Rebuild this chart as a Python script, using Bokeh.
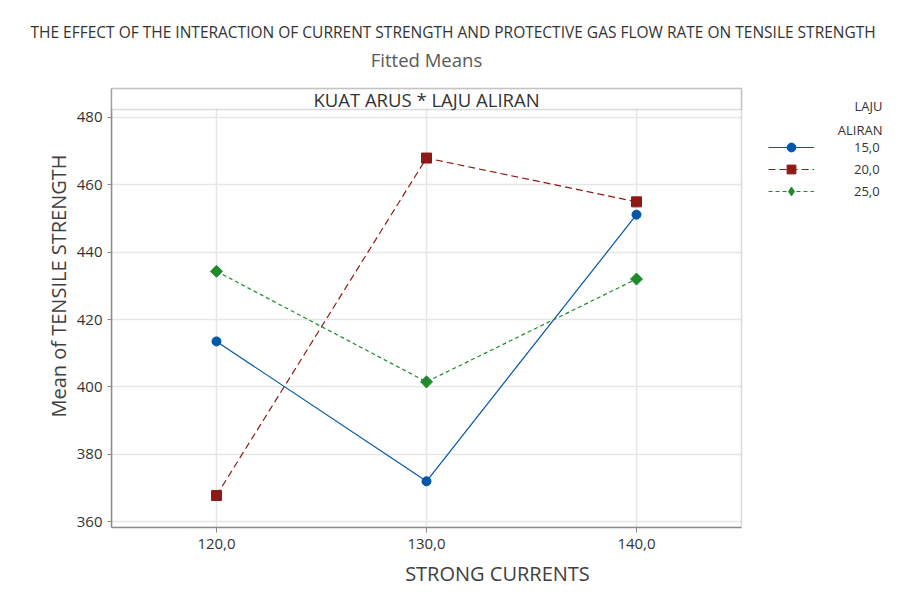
from bokeh.plotting import figure
from bokeh.models import Range1d, Legend, LegendItem, Label, BoxAnnotation, FixedTicker, Title
from bokeh.embed import file_html
from bokeh.resources import INLINE
import numpy as np

# ---- data ----
currents = [120, 130, 140]
flow_labels = ["15,0", "20,0", "25,0"]
mean_15 = [413.5, 372.0, 451.1]
mean_20 = [367.8, 467.9, 454.9]
mean_25 = [434.3, 401.5, 432.0]
y_ticks = [360, 380, 400, 420, 440, 460, 480]
x_ticks = [120, 130, 140]
x_tick_labels = {120: "120,0", 130: "130,0", 140: "140,0"}

# ---- layout constants (pixels -> data) ----
FONT = "Open Sans"
X0, X1 = 115, 145            # plotted x span (boxed area)
Y0, YTOP = 358.3, 488.55     # plotted y span (boxed area incl. header strip)
YHEAD = 482.33               # bottom of header strip
PX_X = 21.0                  # px per x unit
PX_Y = 3.378                 # px per y unit
LEFT, TOP, W, H = 111, 44, 883, 589
FRAME_W = W - LEFT
FRAME_H = 528 - TOP
x_end = X0 + FRAME_W / PX_X
y_end = Y0 + FRAME_H / PX_Y

def yd(py):  # picture y -> data y
    return YTOP - (py - 88) / PX_Y

p = figure(width=W, height=H, output_backend="svg", toolbar_location=None,
           x_range=Range1d(X0, x_end), y_range=Range1d(Y0, y_end),
           min_border_left=LEFT, min_border_right=0, min_border_top=TOP, min_border_bottom=H - 528)
p.background_fill_color = "white"
p.border_fill_color = "white"
p.outline_line_color = None

# grid
p.xgrid.ticker = FixedTicker(ticks=x_ticks)
p.ygrid.ticker = FixedTicker(ticks=y_ticks)
for g in (p.xgrid, p.ygrid):
    g.grid_line_color = "#e6e6e6"
    g.grid_line_width = 1.5

# axes
p.xaxis.ticker = FixedTicker(ticks=x_ticks)
p.xaxis.major_label_overrides = x_tick_labels
p.yaxis.ticker = FixedTicker(ticks=y_ticks)
p.xaxis.bounds = (X0, X1)
p.yaxis.bounds = (Y0, YTOP)
for ax in (p.xaxis[0], p.yaxis[0]):
    ax.axis_line_color = "#8c8c8c"
    ax.axis_line_width = 1.5
    ax.major_tick_line_color = "#8c8c8c"
    ax.major_tick_line_width = 1
    ax.major_tick_in = 0
    ax.major_tick_out = 5
    ax.minor_tick_line_color = None
    ax.major_label_text_font = FONT
    ax.major_label_text_font_size = "15px"
    ax.major_label_text_color = "#333333"
    ax.axis_label_text_font = FONT
    ax.axis_label_text_font_size = "20px"
    ax.axis_label_text_font_style = "normal"
    ax.axis_label_text_color = "#404040"
p.yaxis.major_tick_out = 4
p.yaxis.major_label_standoff = 5
p.xaxis.major_label_standoff = 6
p.xaxis.axis_label = "STRONG CURRENTS"
p.yaxis.axis_label = "Mean of TENSILE STRENGTH"
p.xaxis.axis_label_standoff = 8
p.yaxis.axis_label_standoff = 2

# series
blue, red, green = "#0057a8", "#8e1a17", "#1e8a2c"
l1 = p.line(currents, mean_15, line_color=blue, line_width=1.2)
s1 = p.scatter(currents, mean_15, marker="circle", size=9, fill_color=blue, line_color=blue)
l2 = p.line(currents, mean_20, line_color=red, line_width=1.2, line_dash="7 4")
s2 = p.scatter(currents, mean_20, marker="square", size=10, fill_color=red, line_color=red)
l3 = p.line(currents, mean_25, line_color=green, line_width=1.2, line_dash="4 3")
s3 = p.scatter(currents, mean_25, marker="square", angle=np.pi / 4, size=8.5, fill_color=green, line_color=green)
# legend-only diamond symbol (not drawn in the plot area)
s3_key = p.scatter([np.nan], [np.nan], marker="diamond", size=12, fill_color=green, line_color=green)

# white covers outside the boxed chart area (hide grid there)
p.add_layout(BoxAnnotation(left=X1, fill_color="white", fill_alpha=1, line_color=None))
p.add_layout(BoxAnnotation(bottom=YTOP, fill_color="white", fill_alpha=1, line_color=None))
# header strip
p.add_layout(BoxAnnotation(left=X0, right=X1, bottom=YHEAD, top=YTOP, fill_color="white", fill_alpha=1,
                           line_color="#8c8c8c", line_width=1.5))
# chart box outline
p.add_layout(BoxAnnotation(left=X0, right=X1, top=YTOP, fill_alpha=0,
                           line_color="#8c8c8c", line_width=1.5))
p.add_layout(Label(x=(X0 + X1) / 2, y=yd(99.5), text="KUAT ARUS * LAJU ALIRAN", text_align="center",
                   text_baseline="middle", text_font=FONT, text_font_size="18.5px", text_color="#333333"))
p.add_layout(Label(x=(X0 + X1) / 2, y=yd(59), text="Fitted Means", text_align="center", text_baseline="middle",
                   text_font=FONT, text_font_size="18.5px", text_color="#595959"))

legend = Legend(items=[LegendItem(label=flow_labels[0], renderers=[l1, s1]),
                       LegendItem(label=flow_labels[1], renderers=[l2, s2]),
                       LegendItem(label=flow_labels[2], renderers=[l3, s3_key])],
                location=(657, 325), orientation="vertical",
                glyph_width=46, glyph_height=22, label_height=22, spacing=0,
                padding=0, margin=0, label_standoff=40,
                label_text_font=FONT, label_text_font_size="13px", label_text_color="#333333",
                border_line_color=None, background_fill_alpha=0)
p.add_layout(legend, "center")
p.add_layout(Label(x=x_end - 1 / PX_X, y=yd(105.7), text="LAJU", text_align="right", text_baseline="middle",
                   text_font=FONT, text_font_size="13px", text_color="#333333"))
p.add_layout(Label(x=x_end - 1 / PX_X, y=yd(130), text="ALIRAN", text_align="right", text_baseline="middle",
                   text_font=FONT, text_font_size="13px", text_color="#333333"))

# main title above the frame
p.add_layout(Title(text="THE EFFECT OF THE INTERACTION OF CURRENT STRENGTH AND PROTECTIVE GAS FLOW RATE ON TENSILE STRENGTH",
                   align="left", offset=30 - LEFT, text_font=FONT, text_font_size="15.5px",
                   text_font_style="normal", text_color="#333333", standoff=3), "above")

open("out.html", "w").write(file_html(p, INLINE))
